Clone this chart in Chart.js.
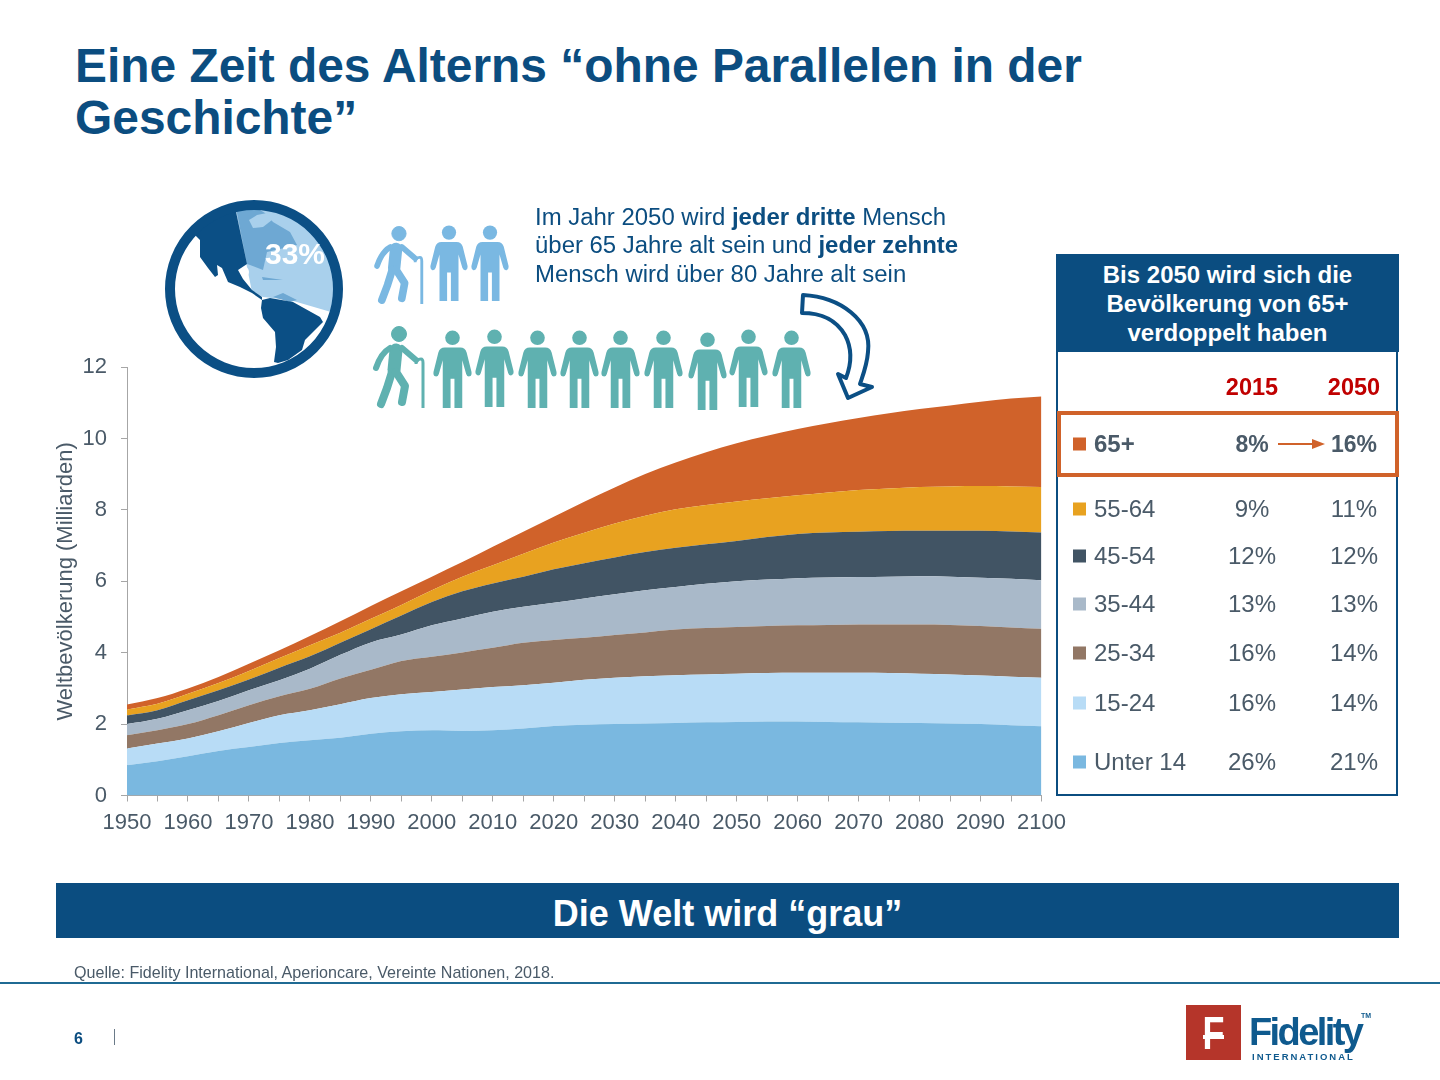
<!DOCTYPE html>
<html lang="de">
<head>
<meta charset="utf-8">
<title>Eine Zeit des Alterns</title>
<script src="https://cdn.jsdelivr.net/npm/chart.js@4/dist/chart.umd.min.js"></script>
<style>
  html, body { margin: 0; padding: 0; background: #fff; }
  body { width: 1440px; height: 1080px; position: relative; overflow: hidden; font-family: "Liberation Sans", Arial, sans-serif; color: #0b4d80; }
  .abs { position: absolute; }
  #title { left: 75px; top: 40px; font-size: 47.9px; line-height: 52px; font-weight: bold; white-space: nowrap; }
  #note { left: 535px; top: 202.5px; font-size: 23.95px; line-height: 28.7px; white-space: nowrap; }
  #chart-box { left: 40px; top: 340px; width: 1050px; height: 520px; }
  #art { left: 0; top: 0; }
  #panel { left: 1056px; top: 254px; width: 338px; height: 538px; border: 2.5px solid #0b4d80; }
  #panel-head { left: 1056px; top: 254px; width: 343px; height: 98px; background: #0b4d80; color: #fff; font-weight: bold; font-size: 24px; line-height: 28.9px; text-align: center; padding-top: 7px; box-sizing: border-box; }
  #highlight { left: 1057px; top: 411px; width: 334px; height: 58px; border: 4px solid #d0622a; background: #fff; }
  .year { font-size: 23.5px; font-weight: bold; color: #c00000; transform: translate(-50%, -50%); }
  .cell { font-size: 24px; color: #4a5a68; transform: translate(-50%, -50%); white-space: nowrap; }
  .cell.strong { font-weight: bold; font-size: 23px; }
  .label { font-size: 24px; color: #4a5a68; transform: translateY(-50%); white-space: nowrap; }
  .label.strong { font-weight: bold; }
  .swatch { width: 13px; height: 13px; transform: translateY(-50%); }
  #band { left: 56px; top: 883px; width: 1343px; height: 55px; background: #0b4d80; color: #fff; font-size: 36px; font-weight: bold; text-align: center; line-height: 61px; }
  #source { left: 74px; top: 963px; font-size: 16.1px; color: #4a5a68; white-space: nowrap; }
  #rule { left: 0; top: 982px; width: 1440px; height: 2px; background: #1f6a93; }
  #page { left: 74px; top: 1030px; font-size: 16px; font-weight: bold; }
  #sep { left: 114px; top: 1029px; width: 1px; height: 16px; background: #6a7a88; }
  #logo-box { left: 1186px; top: 1005px; width: 55px; height: 55px; background: #b5352a; }
  #logo-mark { left: 1186px; top: 1005px; width: 55px; color: #fff; font-size: 46px; font-weight: bold; text-align: center; line-height: 56px; transform: scaleX(.78); }
  #logo-bar { left: 1203px; top: 1035px; width: 21px; height: 4px; background: #fff; }
  #logo-name { left: 1249px; top: 1011px; font-size: 38px; font-weight: bold; letter-spacing: -2.6px; color: #0f5a8e; white-space: nowrap; }
  #logo-sub { left: 1252px; top: 1051px; font-size: 9.5px; font-weight: bold; letter-spacing: 2px; color: #0f5a8e; white-space: nowrap; }
  #logo-tm { left: 1361px; top: 1012px; font-size: 7px; font-weight: bold; color: #0f5a8e; }
</style>
</head>
<body>

<div id="title" class="abs">Eine Zeit des Alterns “ohne Parallelen in der<br>Geschichte”</div>

<div id="chart-box" class="abs"><canvas id="population-chart" width="1050" height="520"></canvas></div>

<svg id="art" class="abs" width="1440" height="1080" viewBox="0 0 1440 1080">
  <defs>
    <symbol id="person" viewBox="0 0 40 80" overflow="visible">
      <circle cx="20" cy="8" r="7.5"/>
      <path d="M12 18H28Q33 18 34.5 23L39.5 43Q40 47 37.5 47.5Q35 48 34 45L30 31V80H22V50H18V80H10V31L6 45Q5 48 2.5 47.5Q0 47 .5 43L5.5 23Q7 18 12 18Z"/>
    </symbol>
    <symbol id="walker" viewBox="0 0 52 82" overflow="visible">
      <circle cx="27" cy="8" r="7.5"/>
      <g fill="none" stroke-linecap="round" stroke-linejoin="round">
        <path d="M24 24L22 44" stroke-width="13"/>
        <path d="M18 22Q9 27 4 42" stroke-width="6"/>
        <path d="M30 22L44 34" stroke-width="6"/>
        <path d="M20 46L15 62L9 78" stroke-width="8"/>
        <path d="M24 46L33 60L30 76" stroke-width="8"/>
        <path d="M44 38Q44 33 49 33Q51 33 51 37V82" stroke-width="3" stroke-linecap="butt"/>
      </g>
    </symbol>
  </defs>

  <!-- globe -->
  <circle cx="254" cy="289" r="84" fill="#fff"/>
  <path d="M252 292L235 207A84 84 0 0 1 331 312L290 300L263 297Z" fill="#a9d0ec"/>
  <path d="M236 208L250 204L265 213L273 222L290 232L297 245L267 252L263 270L250 265L247 264Z" fill="#6ea8d3"/>
  <path d="M249 220L257 215L267 213L272 220L263 227L253 228Z" fill="#a9d0ec"/>
  <path d="M262 277L283 280L263 280ZM273 297L283 293L297 300L290 302Z" fill="#6ea8d3"/>
  <circle cx="243" cy="272" r="6" fill="#fff"/>
  <path d="M235 207L247 264L238 270L243 279L252 290L262 297L262 300L252 293L240 287L228 282L222 268L217 265L218 275L215 277L208 268L200 257L200 240L195 235L207 215Z" fill="#0b4f85"/>
  <path d="M262 300L270 298L293 302L320 317L323 322L305 340L302 350L288 360L278 363L274 362L276 347L275 332L263 318L261 308Z" fill="#0b4f85"/>
  <circle cx="254" cy="289" r="84" fill="none" stroke="#0b4f85" stroke-width="10"/>
  <text x="295" y="264" text-anchor="middle" font-family="Liberation Sans" font-size="30" font-weight="bold" fill="#fff">33%</text>

  <!-- first row of people -->
  <g fill="#7ab8e2" stroke="#7ab8e2">
    <use href="#walker" x="373" y="226" width="50" height="78"/>
    <use href="#person" x="430" y="223" width="38" height="80" stroke="none"/>
    <use href="#person" x="471" y="223" width="38" height="80" stroke="none"/>
  </g>
  <!-- second row of people -->
  <g id="row2" fill="#5fb1b0" stroke="#5fb1b0">
    <use href="#walker" x="372" y="326" width="52" height="82"/>
  </g>

  <!-- curved arrow -->
  <path d="M803 295C840 297 872 320 868 352C867 365 863 375 860 384L872 387L848 398L838 374L846 378C851 365 853 350 845 335C835 318 820 313 802 313Z" fill="#fff" stroke="#0b4f85" stroke-width="4" stroke-linejoin="round"/>
</svg>

<div id="note" class="abs">Im Jahr 2050 wird <b>jeder dritte</b> Mensch<br>über 65 Jahre alt sein und <b>jeder zehnte</b><br>Mensch wird über 80 Jahre alt sein</div>

<div id="panel" class="abs"></div>
<div id="panel-head" class="abs">Bis 2050 wird sich die<br>Bevölkerung von 65+<br>verdoppelt haben</div>
<div id="highlight" class="abs"></div>
<div id="rows"></div>
<svg class="abs" style="left:1276px;top:436px" width="52" height="16"><path d="M2 8H38" stroke="#d0622a" stroke-width="2"/><path d="M36 3L49 8L36 13Z" fill="#d0622a"/></svg>

<div id="band" class="abs">Die Welt wird “grau”</div>
<div id="source" class="abs">Quelle: Fidelity International, Aperioncare, Vereinte Nationen, 2018.</div>
<div id="rule" class="abs"></div>
<div id="page" class="abs">6</div>
<div id="sep" class="abs"></div>
<div id="logo-box" class="abs"></div>
<div id="logo-mark" class="abs">F</div>
<div id="logo-bar" class="abs"></div>
<div id="logo-name" class="abs">Fidelity</div>
<div id="logo-tm" class="abs">TM</div>
<div id="logo-sub" class="abs">INTERNATIONAL</div>

<script>
const years = ['1950','1955','1960','1965','1970','1975','1980','1985','1990','1995','2000','2005','2010','2015','2020','2025','2030','2035','2040','2045','2050','2055','2060','2065','2070','2075','2080','2085','2090','2095','2100'];

// Milliarden per age group, stacked bottom to top
const under14 = [.85,.96,1.10,1.25,1.36,1.47,1.55,1.62,1.73,1.80,1.83,1.81,1.83,1.88,1.95,1.98,2.00,2.02,2.03,2.05,2.06,2.07,2.07,2.06,2.05,2.04,2.03,2.02,2.00,1.97,1.94];
const age15to24 = [.47,.495,.50,.55,.67,.78,.84,.94,1.00,1.04,1.07,1.16,1.21,1.21,1.21,1.26,1.30,1.32,1.34,1.34,1.35,1.36,1.37,1.38,1.39,1.39,1.38,1.37,1.36,1.36,1.36];
const age25to34 = [.37,.375,.40,.45,.50,.53,.60,.72,.79,.93,.99,1.04,1.10,1.19,1.20,1.18,1.20,1.23,1.28,1.30,1.31,1.32,1.33,1.34,1.35,1.36,1.38,1.39,1.39,1.38,1.37];
const age35to44 = [.31,.32,.39,.40,.42,.45,.56,.66,.77,.74,.88,.95,1.01,1.01,1.04,1.10,1.14,1.18,1.19,1.24,1.28,1.30,1.32,1.33,1.33,1.34,1.35,1.35,1.35,1.36,1.36];
const age45to54 = [.24,.24,.28,.30,.30,.35,.35,.34,.37,.53,.65,.76,.79,.84,.94,.99,1.03,1.07,1.10,1.11,1.13,1.19,1.24,1.26,1.27,1.28,1.28,1.29,1.32,1.33,1.34];
const age55to64 = [.17,.18,.18,.20,.24,.27,.31,.28,.29,.30,.33,.41,.51,.64,.75,.85,.95,1.02,1.08,1.10,1.11,1.09,1.08,1.12,1.17,1.19,1.22,1.24,1.25,1.26,1.27];
const age65plus = [.14,.16,.15,.17,.20,.22,.26,.32,.36,.38,.38,.41,.52,.62,.72,.87,1.01,1.17,1.31,1.48,1.63,1.75,1.86,1.94,2.02,2.11,2.19,2.27,2.36,2.46,2.54];

// table rows, top to bottom
const groupLabels = ['65+','55-64','45-54','35-44','25-34','15-24','Unter 14'];
const share2015 = ['8%','9%','12%','13%','16%','16%','26%'];
const share2050 = ['16%','11%','12%','13%','14%','14%','21%'];
const groupColors = ['#d0622a','#e8a220','#415464','#a9b9c9','#927765','#b8dcf6','#7ab8e0'];
const rowCenters = [444,509,556,604,653,703,762];

const addDiv = (className, left, top, text, color) => {
    const el = document.createElement('div');
    el.className = 'abs ' + className;
    el.style.left = left + 'px';
    el.style.top = top + 'px';
    if (text) el.textContent = text;
    if (color) el.style.background = color;
    document.getElementById('rows').appendChild(el);
};

addDiv('year', 1252, 387, '2015');
addDiv('year', 1354, 387, '2050');

groupLabels.forEach((label, i) => {
    const strong = i === 0 ? ' strong' : '';
    addDiv('swatch', 1073, rowCenters[i], '', groupColors[i]);
    addDiv('label' + strong, 1094, rowCenters[i], label);
    addDiv('cell' + strong, 1252, rowCenters[i], share2015[i]);
    addDiv('cell' + strong, 1354, rowCenters[i], share2050[i]);
});

// teal row: walker plus nine standing figures
const row2 = document.getElementById('row2');
[433,475,518,560,601,644,688,729,772].forEach((x, i) => {
    const use = document.createElementNS('http://www.w3.org/2000/svg', 'use');
    use.setAttribute('href', '#person');
    use.setAttribute('x', x);
    use.setAttribute('y', [329,328,329,329,329,329,331,328,329][i]);
    use.setAttribute('width', 39);
    use.setAttribute('height', 80);
    use.setAttribute('stroke', 'none');
    row2.appendChild(use);
});

const series = [under14, age15to24, age25to34, age35to44, age45to54, age55to64, age65plus];
const datasets = series.map((values, i) => ({
    label: groupLabels[6 - i],
    data: values,
    backgroundColor: groupColors[6 - i],
    borderWidth: 0,
    pointRadius: 0,
    cubicInterpolationMode: 'monotone',
    fill: i === 0 ? 'origin' : '-1'
}));

const axisColor = '#a6a6a6';
const textColor = '#4a5a68';

new Chart(document.getElementById('population-chart').getContext('2d'), {
    type: 'line',
    data: { labels: years, datasets: datasets },
    options: {
        responsive: false,
        animation: false,
        layout: { padding: { top: 0, right: 48.5, left: 0, bottom: 0 } },
        plugins: { legend: { display: false }, tooltip: { enabled: false } },
        scales: {
            x: {
                offset: false,
                afterFit: (scale) => { scale.height = 64.5; },
                border: { color: axisColor },
                grid: { drawOnChartArea: false, color: axisColor, tickLength: 6 },
                ticks: {
                    autoSkip: false,
                    maxRotation: 0,
                    color: textColor,
                    padding: 8,
                    font: { family: 'Liberation Sans', size: 22 },
                    callback: function (value, index) {
                        return index % 2 === 0 ? this.getLabelForValue(value) : '';
                    }
                }
            },
            y: {
                stacked: true,
                min: 0,
                max: 12,
                afterFit: (scale) => { scale.width = 87; },
                border: { color: axisColor },
                grid: { drawOnChartArea: false, color: axisColor, tickLength: 6 },
                ticks: {
                    stepSize: 2,
                    color: textColor,
                    padding: 14,
                    font: { family: 'Liberation Sans', size: 22 }
                },
                title: {
                    display: true,
                    text: 'Weltbevölkerung (Milliarden)',
                    color: textColor,
                    padding: { top: 13, bottom: 0 },
                    font: { family: 'Liberation Sans', size: 22 }
                }
            }
        }
    }
});
</script>
</body>
</html>
